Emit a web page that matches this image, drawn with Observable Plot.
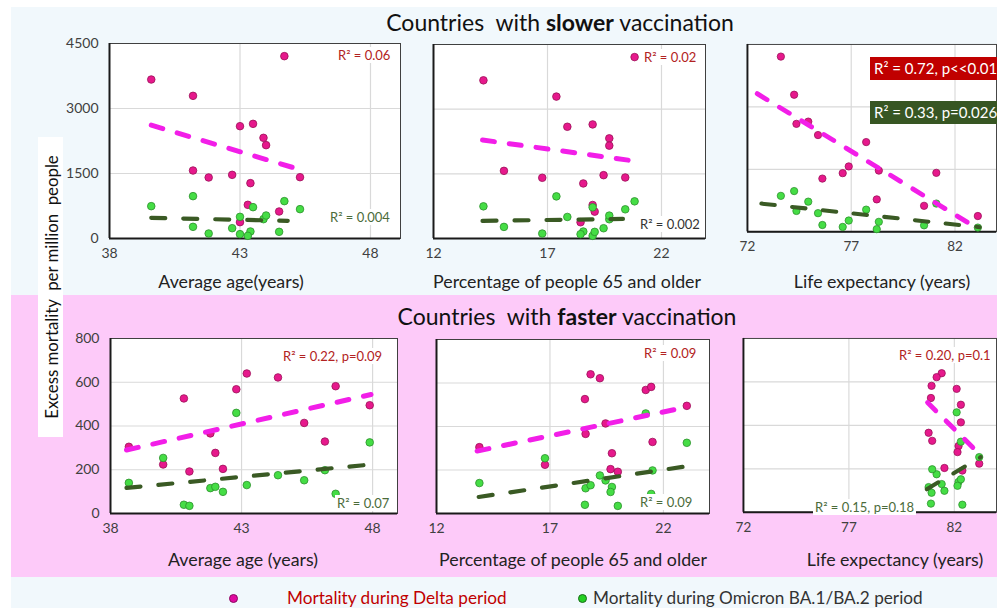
<!DOCTYPE html>
<html><head><meta charset="utf-8">
<script src="https://cdn.jsdelivr.net/npm/d3@7"></script>
<script src="https://cdn.jsdelivr.net/npm/@observablehq/plot@0.6"></script>
<style>
html,body{margin:0;padding:0;width:997px;height:608px;overflow:hidden;background:#fff;font-family:Lato,"Noto Sans",sans-serif;}
#root{position:relative;width:997px;height:608px;overflow:hidden;}
.band{position:absolute;}
.title{position:absolute;width:600px;text-align:center;font-size:23px;color:#111;white-space:pre;line-height:26px;}
.xlab{position:absolute;font-size:17.8px;color:#222;white-space:nowrap;transform:translateX(-50%);line-height:20px;}
.r2{position:absolute;font-size:13px;background:#fff;white-space:nowrap;padding:0 2px;line-height:16px;}
.box{position:absolute;font-size:15px;color:#fff;white-space:nowrap;padding-left:4px;line-height:23px;height:23px;width:140px;}
.panel{position:absolute;}
.ylab{position:absolute;left:38px;top:137px;width:25px;height:300px;background:#fff;}
.ylab span{position:absolute;left:50%;top:50%;transform:translate(-50%,-50%) rotate(-90deg);white-space:pre;font-size:16.8px;color:#111;}
.leg{position:absolute;font-size:17.2px;white-space:nowrap;line-height:20px;}
.legdot{position:absolute;width:8px;height:8px;border-radius:50%;}
</style></head><body><div id="root"></div>
<script>
// ---------- data: countries with slower vaccination ----------
const slowAge      = [39.6, 41.2, 44.7, 43.0, 43.5, 43.9, 44.0, 41.2, 41.8, 42.7, 43.4, 45.3, 43.3, 44.5, 43.0];
const slowOld      = [14.19, 17.39, 20.82, 17.87, 18.98, 19.71, 19.71, 15.09, 16.77, 19.46, 18.57, 20.41, 18.98, 19.07, 18.45];
const slowLife     = [null, 74.25, 73.61, 74.36, 74.93, 75.40, 77.72, 76.88, 76.59, 78.33, 75.61, 81.10, 78.23, 80.51, 83.10];
const slowDelta    = [3669, 3292, 4208, 2592, 2646, 2323, 2154, 1569, 1408, 1469, 1277, 1415, 777, 623, 377];
const slowOmicron  = [746, 977, 862, 500, 723, 446, 531, 269, 115, 238, 162, 677, 62, 154, 100];
// ---------- data: countries with faster vaccination ----------
const fastAge      = [38.70, 40.01, 40.80, 41.01, 41.81, 42.00, 42.29, 42.80, 43.20, 44.39, 45.39, 46.18, 46.59, 47.89];
const fastOld      = [13.89, 16.78, 18.54, 19.99, 18.57, 19.73, 19.67, 21.22, 18.79, 19.20, 19.45, 21.52, 21.46, 23.03];
const fastLife     = [82.20, 83.18, 80.89, 82.38, 80.78, 82.15, 81.53, 82.11, 81.40, 81.16, 82.31, 80.95, 80.92, 82.31];
const fastDelta    = [305, 224, 526, 192, 366, 277, 204, 568, 640, 622, 414, 329, 582, 495];
const fastOmicron  = [140, 254, 40, 35, 116, 122, 99, 460, 130, 175, 152, 198, 90, 325];
// ---------- trend lines (end points) ----------
const slowAgeDeltaTrendX = [39.6, 45.37],  slowAgeDeltaTrendY = [2615, 1577];
const slowAgeOmiTrendX   = [39.6, 44.83],  slowAgeOmiTrendY   = [477, 408];
const slowOldDeltaTrendX = [14.15, 20.89], slowOldDeltaTrendY = [2285, 1792];
const slowOldOmiTrendX   = [14.15, 20.31], slowOldOmiTrendY   = [408, 454];
const slowLifeDeltaTrendX = [72.47, 83.16], slowLifeDeltaTrendY = [3318, 54];
const slowLifeOmiTrendX   = [72.67, 83.19], slowLifeOmiTrendY   = [676, 109];
const fastAgeDeltaTrendX = [38.61, 47.94], fastAgeDeltaTrendY = [290, 544];
const fastAgeOmiTrendX   = [38.61, 47.94], fastAgeOmiTrendY   = [117, 224];
const fastOldDeltaTrendX = [13.79, 23.1],  fastOldDeltaTrendY = [287, 491];
const fastOldOmiTrendX   = [13.86, 23.1],  fastOldOmiTrendY   = [76, 218];
const fastLifeDeltaTrendX = [80.73, 83.10], fastLifeDeltaTrendY = [505, 277];
const fastLifeOmiTrendX   = [80.69, 83.25], fastLifeOmiTrendY   = [106, 254];
// ---------- ticks ----------
const ageTicks = [38, 43, 48];
const oldTicks = [12, 17, 22];
const lifeTicks = [72, 77, 82];
const slowYTicks = [0, 1500, 3000, 4500];
const fastYTicks = [0, 200, 400, 600, 800];
// ---------- texts ----------
const slowTitle = ["Countries  with ", "slower", " vaccination"];
const fastTitle = ["Countries  with ", "faster", " vaccination"];
const yLabel = "Excess mortality  per million  people";
const legendLabels = ["Mortality during Delta period", "Mortality during Omicron BA.1/BA.2 period"];

const DELTA_FILL = "#e6198c", DELTA_STROKE = "#9a1057";
const OMI_FILL = "#45dd45", OMI_STROKE = "#2c8f2c";
const DELTA_LINE = "#f21ee8", OMI_LINE = "#3a5a24";

const root = document.getElementById("root");
function el(cls, style, html) {
  const d = document.createElement("div");
  d.className = cls;
  Object.assign(d.style, style);
  if (html != null) d.innerHTML = html;
  root.appendChild(d);
  return d;
}
// background bands
el("band", {left:"11px", top:"7px", width:"986px", height:"288px", background:"#f1f8fc"});
el("band", {left:"11px", top:"295px", width:"986px", height:"282px", background:"#fdcaf9"});
el("band", {left:"11px", top:"577px", width:"986px", height:"31px", background:"#f1f8fc"});

const pts = (xs, ys) => xs.map((x, i) => ({x, y: ys[i]})).filter(d => d.x != null);
const fmt = d => String(d);

function panel(cfg) {
  const ml = cfg.showY ? 60 : 1, mr = 1, mt = 1, mb = 32;
  const xT = cfg.xTicks, yT = cfg.yTicks;
  const chart = Plot.plot({
    width: cfg.w + ml + mr, height: cfg.h + mt + mb,
    marginLeft: ml, marginRight: mr, marginTop: mt, marginBottom: mb,
    style: {fontFamily: "Lato, sans-serif", fontSize: "14px", color: "#404040", background: "transparent", overflow: "visible"},
    x: {domain: cfg.xDomain, axis: null},
    y: {domain: cfg.yDomain, axis: null},
    marks: [
      Plot.frame({fill: "white"}),
      Plot.ruleX(xT.slice(1), {stroke: "#d9d9d9", strokeWidth: 1.2}),
      Plot.ruleY(yT.slice(1, -1), {stroke: "#d9d9d9", strokeWidth: 1.2}),
      Plot.frame({stroke: "#404040", strokeWidth: 1}),
      Plot.ruleX([cfg.xDomain[0]], {stroke: "#1a1a1a", strokeWidth: 2}),
      Plot.ruleY([cfg.yDomain[0]], {stroke: "#1a1a1a", strokeWidth: 2}),
      Plot.axisX(xT, {tickSize: 0, tickPadding: 10, label: null, fill: "#404040", tickFormat: fmt}),
      cfg.showY ? Plot.axisY(yT, {tickSize: 0, tickPadding: 11, label: null, fill: "#404040", tickFormat: fmt}) : null,
      Plot.dot(pts(cfg.x, cfg.delta), {x: "x", y: "y", r: 3.8, fill: DELTA_FILL, stroke: DELTA_STROKE, strokeWidth: 0.8}),
      Plot.dot(pts(cfg.x, cfg.omi), {x: "x", y: "y", r: 3.8, fill: OMI_FILL, stroke: OMI_STROKE, strokeWidth: 0.8}),
      Plot.line(pts(cfg.dTX, cfg.dTY), {x: "x", y: "y", stroke: DELTA_LINE, strokeWidth: 5, strokeDasharray: "12,15", strokeLinecap: "round"}),
      Plot.line(pts(cfg.oTX, cfg.oTY), {x: "x", y: "y", stroke: OMI_LINE, strokeWidth: 4.2, strokeDasharray: "14,18", strokeLinecap: "round"})
    ]
  });
  const wrap = el("panel", {left: (cfg.left - ml) + "px", top: (cfg.top - mt) + "px"});
  wrap.appendChild(chart);
}

panel({left:109, top:43, w:291, h:195, showY:true, xDomain:[38, 49.15], yDomain:[0, 4500], xTicks:ageTicks, yTicks:slowYTicks,
  x:slowAge, delta:slowDelta, omi:slowOmicron, dTX:slowAgeDeltaTrendX, dTY:slowAgeDeltaTrendY, oTX:slowAgeOmiTrendX, oTY:slowAgeOmiTrendY});
panel({left:433, top:44, w:272, h:194, showY:false, xDomain:[12, 23.93], yDomain:[0, 4500], xTicks:oldTicks, yTicks:slowYTicks,
  x:slowOld, delta:slowDelta, omi:slowOmicron, dTX:slowOldDeltaTrendX, dTY:slowOldDeltaTrendY, oTX:slowOldOmiTrendX, oTY:slowOldOmiTrendY});
panel({left:747, top:44, w:258, h:194, showY:false, xDomain:[72, 84], yDomain:[0, 4500], xTicks:lifeTicks, yTicks:slowYTicks,
  x:slowLife, delta:slowDelta, omi:slowOmicron, dTX:slowLifeDeltaTrendX, dTY:slowLifeDeltaTrendY, oTX:slowLifeOmiTrendX, oTY:slowLifeOmiTrendY});
panel({left:110, top:338, w:287, h:175, showY:true, xDomain:[38, 48.95], yDomain:[0, 800], xTicks:ageTicks, yTicks:fastYTicks,
  x:fastAge, delta:fastDelta, omi:fastOmicron, dTX:fastAgeDeltaTrendX, dTY:fastAgeDeltaTrendY, oTX:fastAgeOmiTrendX, oTY:fastAgeOmiTrendY});
panel({left:436, top:339, w:273, h:174, showY:false, xDomain:[12, 24.03], yDomain:[0, 800], xTicks:oldTicks, yTicks:fastYTicks,
  x:fastOld, delta:fastDelta, omi:fastOmicron, dTX:fastOldDeltaTrendX, dTY:fastOldDeltaTrendY, oTX:fastOldOmiTrendX, oTY:fastOldOmiTrendY});
panel({left:743, top:338, w:262, h:180, showY:false, xDomain:[72, 84], yDomain:[0, 800], xTicks:lifeTicks, yTicks:fastYTicks,
  x:fastLife, delta:fastDelta, omi:fastOmicron, dTX:fastLifeDeltaTrendX, dTY:fastLifeDeltaTrendY, oTX:fastLifeOmiTrendX, oTY:fastLifeOmiTrendY});

// titles
el("title", {left:"260px", top:"9px"}, slowTitle[0] + "<b>" + slowTitle[1] + "</b>" + slowTitle[2]);
el("title", {left:"267px", top:"303px"}, fastTitle[0] + "<b>" + fastTitle[1] + "</b>" + fastTitle[2]);
// axis labels
el("xlab", {left:"231px", top:"271px"}, "Average age(years)");
el("xlab", {left:"567px", top:"271px"}, "Percentage of people 65 and older");
el("xlab", {left:"882px", top:"271px"}, "Life expectancy (years)");
el("xlab", {left:"243px", top:"549px"}, "Average age (years)");
el("xlab", {left:"573px", top:"549px"}, "Percentage of people 65 and older");
el("xlab", {left:"895px", top:"549px"}, "Life expectancy (years)");
// y label
const yl = el("ylab", {});
const ys = document.createElement("span"); ys.textContent = yLabel; yl.appendChild(ys);
// R² annotations
const RED = "#b22222", OLIVE = "#4b6b3a";
el("r2", {left:"336px", top:"47px", color:RED}, "R² = 0.06");
el("r2", {left:"328px", top:"209px", color:OLIVE}, "R² = 0.004");
el("r2", {left:"642px", top:"49px", color:RED}, "R² = 0.02");
el("r2", {left:"638px", top:"216px", color:"#333"}, "R² = 0.002");
el("box", {left:"870px", top:"57px", background:"#c00000"}, "R² = 0.72, p&lt;&lt;0.01");
el("box", {left:"870px", top:"101px", background:"#375623"}, "R² = 0.33, p=0.026");
el("r2", {left:"281px", top:"348px", color:RED}, "R² = 0.22, p=0.09");
el("r2", {left:"335px", top:"495px", color:OLIVE}, "R² = 0.07");
el("r2", {left:"642px", top:"345px", color:RED}, "R² = 0.09");
el("r2", {left:"638px", top:"494px", color:OLIVE}, "R² = 0.09");
el("r2", {left:"897px", top:"347px", color:RED}, "R² = 0.20, p=0.1");
el("r2", {left:"813px", top:"499px", color:OLIVE}, "R² = 0.15, p=0.18");
// legend
el("legdot", {left:"229px", top:"594px", background:"#e00aa0", border:"1px solid #8a0a60", width:"7px", height:"7px"});
el("leg", {left:"287px", top:"588px", color:"#c00000"}, legendLabels[0]);
el("legdot", {left:"578px", top:"594px", background:"#22d022", border:"1px solid #1a6a1a", width:"7px", height:"7px"});
el("leg", {left:"593px", top:"588px", color:"#333"}, legendLabels[1]);
</script></body></html>
